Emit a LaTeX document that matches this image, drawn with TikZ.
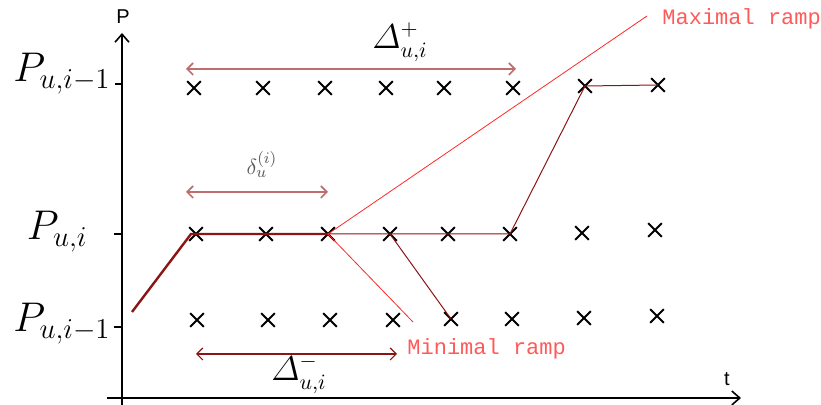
\documentclass[tikz,border=0pt]{standalone}
\usepackage{amsmath}
\usepackage{fontspec}
\setsansfont{Liberation Sans}
\setmonofont{Liberation Mono}
\usepackage{xcolor}
\usetikzlibrary{arrows.meta, shapes.misc}

\definecolor{ramplight}{RGB}{190,110,110}
\definecolor{rampdark}{RGB}{140,20,20}
\definecolor{rampred}{RGB}{255,40,40}
\definecolor{ramptext}{RGB}{255,90,90}

\begin{document}
\begin{tikzpicture}[
      x=0.5pt, y=-0.5pt,
      xmark/.style={cross out, draw, line width=1pt, minimum size=5.8pt,
                    inner sep=0pt},
      level/.style={anchor=base east, inner sep=0pt,
                    font=\fontsize{22}{26}\selectfont},
      axislabel/.style={font=\sffamily\fontsize{10}{12}\selectfont, inner sep=0pt},
      axis/.style={-{Straight Barb[length=4pt,width=7pt]}, line width=0.8pt},
      span/.style={{Straight Barb[length=3pt,width=6pt]}-{Straight Barb[length=3pt,width=6pt]},
                   line width=0.8pt, ramplight},
      spanlabel/.style={inner sep=0pt, font=\fontsize{16}{19}\selectfont},
      plan/.style={line width=0.5pt, rampdark},
      ramp/.style={line width=0.4pt, rampred},
      ramplabel/.style={anchor=west, inner sep=0pt, text=ramptext,
                        font=\ttfamily\fontsize{11}{13}\selectfont},
  ]
  \useasboundingbox (0,0) rectangle (821,405);

  %% axes
  \coordinate (ybot) at (122,405);
  \coordinate (ytop) at (122,33);
  \coordinate (xbeg) at (107,398);
  \coordinate (xend) at (741,398);
  \draw[axis] (ybot) -- (ytop);
  \draw[axis] (xbeg) -- (xend);
  \node[axislabel] (plabel) at (123,17) {P};
  \node[axislabel] (tlabel) at (727,379) {t};

  %% levels and ticks
  \draw[line width=0.8pt] (115,84) -- (122,84);
  \draw[line width=0.8pt] (114,234) -- (122,234);
  \draw[line width=0.8pt] (114,327) -- (122,327);
  \node[level] (lvltop) at (111,82)  {$P_{u,i-1}$};
  \node[level] (lvlmid) at (88,240)  {$P_{u,i}$};
  \node[level] (lvlbot) at (111,332) {$P_{u,i-1}$};

  %% grid of points
  \foreach \n/\x/\y in {1/194/88, 2/263/88, 3/325/88, 4/386/88,
                        5/444/88, 6/513/88, 7/585/86, 8/658/85}
    \node[xmark] (t\n) at (\x,\y) {};
  \foreach \n/\x/\y in {1/196/234, 2/266/234, 3/328/234, 4/390/234,
                        5/448/234, 6/510/234, 7/582/233, 8/655/230}
    \node[xmark] (m\n) at (\x,\y) {};
  \foreach \n/\x/\y in {1/197/320, 2/268/320, 3/330/320, 4/393/320,
                        5/451/319, 6/512/319, 7/584/318, 8/657/316}
    \node[xmark] (b\n) at (\x,\y) {};

  %% planned trajectories
  \coordinate (start) at (132,312);
  \coordinate (knee) at (191,234);
  \draw[rampdark, line width=1.2pt] (start) -- (knee) -- (m3.center);
  \draw[plan] (m3.center) -- (m6.center) -- (t7.center) -- (t8.center);
  \draw[plan] (m4.center) -- (b5.center);

  %% ramp limits
  \coordinate (maxend) at (647,16);
  \coordinate (minend) at (413,322);
  \draw[ramp] (m3.center) -- (maxend);
  \draw[ramp] (m3.center) -- (minend);
  \node[ramplabel] (maxlabel) at (662,19) {Maximal ramp};
  \node[ramplabel] (minlabel) at (407,349) {Minimal ramp};

  %% durations
  \coordinate (upl) at (186,69);
  \coordinate (upr) at (516,69);
  \draw[span] (upl) -- (upr);
  \node[spanlabel, anchor=base] (uplabel) at (400,49) {$\varDelta^{+}_{u,i}$};

  \coordinate (dl) at (186,192);
  \coordinate (dr) at (328,192);
  \draw[span] (dl) -- (dr);
  \node[spanlabel, anchor=base, text=black!65,
        font=\fontsize{11}{13}\selectfont] (dlabel) at (262,175) {$\delta_u^{(i)}$};

  \coordinate (dnl) at (196,354);
  \coordinate (dnr) at (397,354);
  \draw[span, rampdark, line width=0.6pt] (dnl) -- (dnr);
  \node[spanlabel, anchor=base] (dnlabel) at (299,381) {$\varDelta^{-}_{u,i}$};

\end{tikzpicture}
\end{document}
